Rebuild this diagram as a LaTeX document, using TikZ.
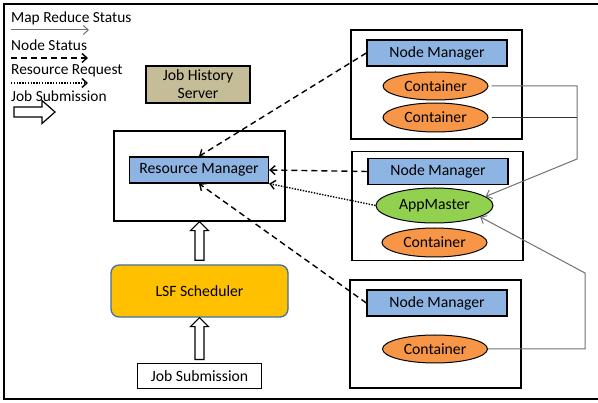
\documentclass[tikz,border=0pt]{standalone}
\usepackage{fontspec}
\setmainfont{Carlito}
\usetikzlibrary{arrows.meta, shapes.geometric, positioning, calc}
\definecolor{mgrblue}{HTML}{8EB4E3}
\definecolor{contorange}{HTML}{F79646}
\definecolor{amgreen}{HTML}{92D050}
\definecolor{lsfyellow}{HTML}{FFC000}
\definecolor{lsfborder}{HTML}{41719C}
\definecolor{jhstan}{HTML}{C4BD97}
\definecolor{statgray}{HTML}{707070}
\tikzset{
  box/.style={
    rectangle, draw=black, line width=1.3pt, inner sep=0pt,
    align=center, font=\fontsize{15.7}{18}\selectfont
  },
  hostbox/.style={box, minimum width=171pt, minimum height=109pt},
  manager/.style={box, fill=mgrblue, minimum width=140pt, minimum height=26pt},
  container/.style={
    ellipse, draw=black, line width=1pt, fill=contorange, inner sep=0pt,
    minimum width=105pt, minimum height=28pt, font=\fontsize{15.7}{18}\selectfont
  },
  legend/.style={anchor=west, inner sep=0pt, font=\fontsize{15.4}{17}\selectfont},
  mrstatus/.style={-{Straight Barb[length=5pt,width=9pt]}, draw=statgray, line width=1pt},
  nodestatus/.style={-{Straight Barb[length=5pt,width=9pt]}, line width=1.4pt, dash pattern=on 6pt off 4pt},
  resreq/.style={-{Straight Barb[length=5pt,width=9pt]}, line width=1.4pt, dash pattern=on 1.4pt off 1.4pt},
  hollow/.style={draw=black, fill=white, line width=1.2pt, line join=miter}
}

\begin{document}
\begin{tikzpicture}[x=1pt, y=-1pt]
    \useasboundingbox (0,0) rectangle (598,403);
    \draw[line width=2pt] (600,4) -- (4,4) -- (4,399) -- (600,399);

    \node[legend] (lmrs) at (11,18) {Map Reduce Status};
    \node[legend] (lns) at (11,45) {Node Status};
    \node[legend] (lrr) at (11,71) {Resource Request};
    \node[legend] (ljs) at (11,96) {Job Submission};
    \coordinate (lmrsa) at (11,30); \coordinate (lmrsb) at (89,30);
    \coordinate (lnsa) at (11,58); \coordinate (lnsb) at (88,58);
    \coordinate (lrra) at (11,83); \coordinate (lrrb) at (88,83);
    \coordinate (ljsa) at (14,112); \coordinate (ljsb) at (55,112);
    \draw[mrstatus] (lmrsa) -- (lmrsb);
    \draw[nodestatus] (lnsa) -- (lnsb);
    \draw[resreq] (lrra) -- (lrrb);
    \draw[hollow] ($(ljsa)+(0,-5)$) -- ($(ljsb)+(-13,-5)$) -- ($(ljsb)+(-13,-11.5)$) -- (ljsb)
      -- ($(ljsb)+(-13,11.5)$) -- ($(ljsb)+(-13,5)$) -- ($(ljsa)+(0,5)$) -- cycle;

    \node[box, fill=jhstan, minimum width=104pt, minimum height=37pt] (jhs) at (198,84.5) {Job History\\Server};
    \node[box, minimum width=171pt, minimum height=90pt] (rmbox) at (199.5,176) {};
    \node[manager, minimum width=139pt] (rm) at (199,170) {Resource Manager};
    \node[box, rounded corners=8pt, fill=lsfyellow, draw=lsfborder, minimum width=177pt, minimum height=52pt] (lsf) at (199.5,291) {LSF Scheduler};
    \node[box, line width=1pt, minimum width=124pt, minimum height=25pt] (jsub) at (199.5,376.5) {Job Submission};

    \node[hostbox] (host1) at (436.5,84.5) {};
    \node[manager] (nm1) at (437,53) {Node Manager};
    \node[container] (c11) at (435.5,86) {Container};
    \node[container, minimum height=29pt] (c12) at (435.5,117.5) {Container};
    \node[hostbox] (host2) at (437.5,206) {};
    \node[manager] (nm2) at (438,171.5) {Node Manager};
    \node[container, fill=amgreen, minimum width=117pt, minimum height=35pt] (am) at (434.5,205.5) {AppMaster};
    \node[container, minimum height=29pt] (c21) at (434.5,242.5) {Container};
    \node[hostbox, minimum height=108pt] (host3) at (435.5,334) {};
    \node[manager] (nm3) at (437,303) {Node Manager};
    \node[container] (c31) at (435,349) {Container};

    \coordinate (mrbend) at (577,159);
    \coordinate (mrbend2) at (585,273);
    \draw[mrstatus, shorten <=3pt] (c11.east) -| (mrbend) -- (am.10);
    \draw[draw=black!80, line width=0.9pt, shorten <=3pt] (c12.east) -- (c12.east -| mrbend);
    \draw[mrstatus] (c31.east) -| (mrbend2) -- (am.-14);

    \draw[nodestatus] (nm1.west) -- (rm.north);
    \draw[nodestatus] (nm2.west) -- (rm.east);
    \draw[nodestatus] (nm3.west) -- (rm.south);
    \draw[resreq] (am.west) -- (rm.south east);

    \draw[hollow] ($(lsf.north)+(-4.5,-4)$) -- ($(rmbox.south)+(-4.5,9)$) -- ($(rmbox.south)+(-9,9)$) -- (rmbox.south)
      -- ($(rmbox.south)+(9,9)$) -- ($(rmbox.south)+(4.5,9)$) -- ($(lsf.north)+(4.5,-4)$) -- cycle;
    \draw[hollow] ($(jsub.north)+(-4.5,-4)$) -- ($(lsf.south)+(-4.5,9)$) -- ($(lsf.south)+(-9,9)$) -- (lsf.south)
      -- ($(lsf.south)+(9,9)$) -- ($(lsf.south)+(4.5,9)$) -- ($(jsub.north)+(4.5,-4)$) -- cycle;
\end{tikzpicture}
\end{document}
